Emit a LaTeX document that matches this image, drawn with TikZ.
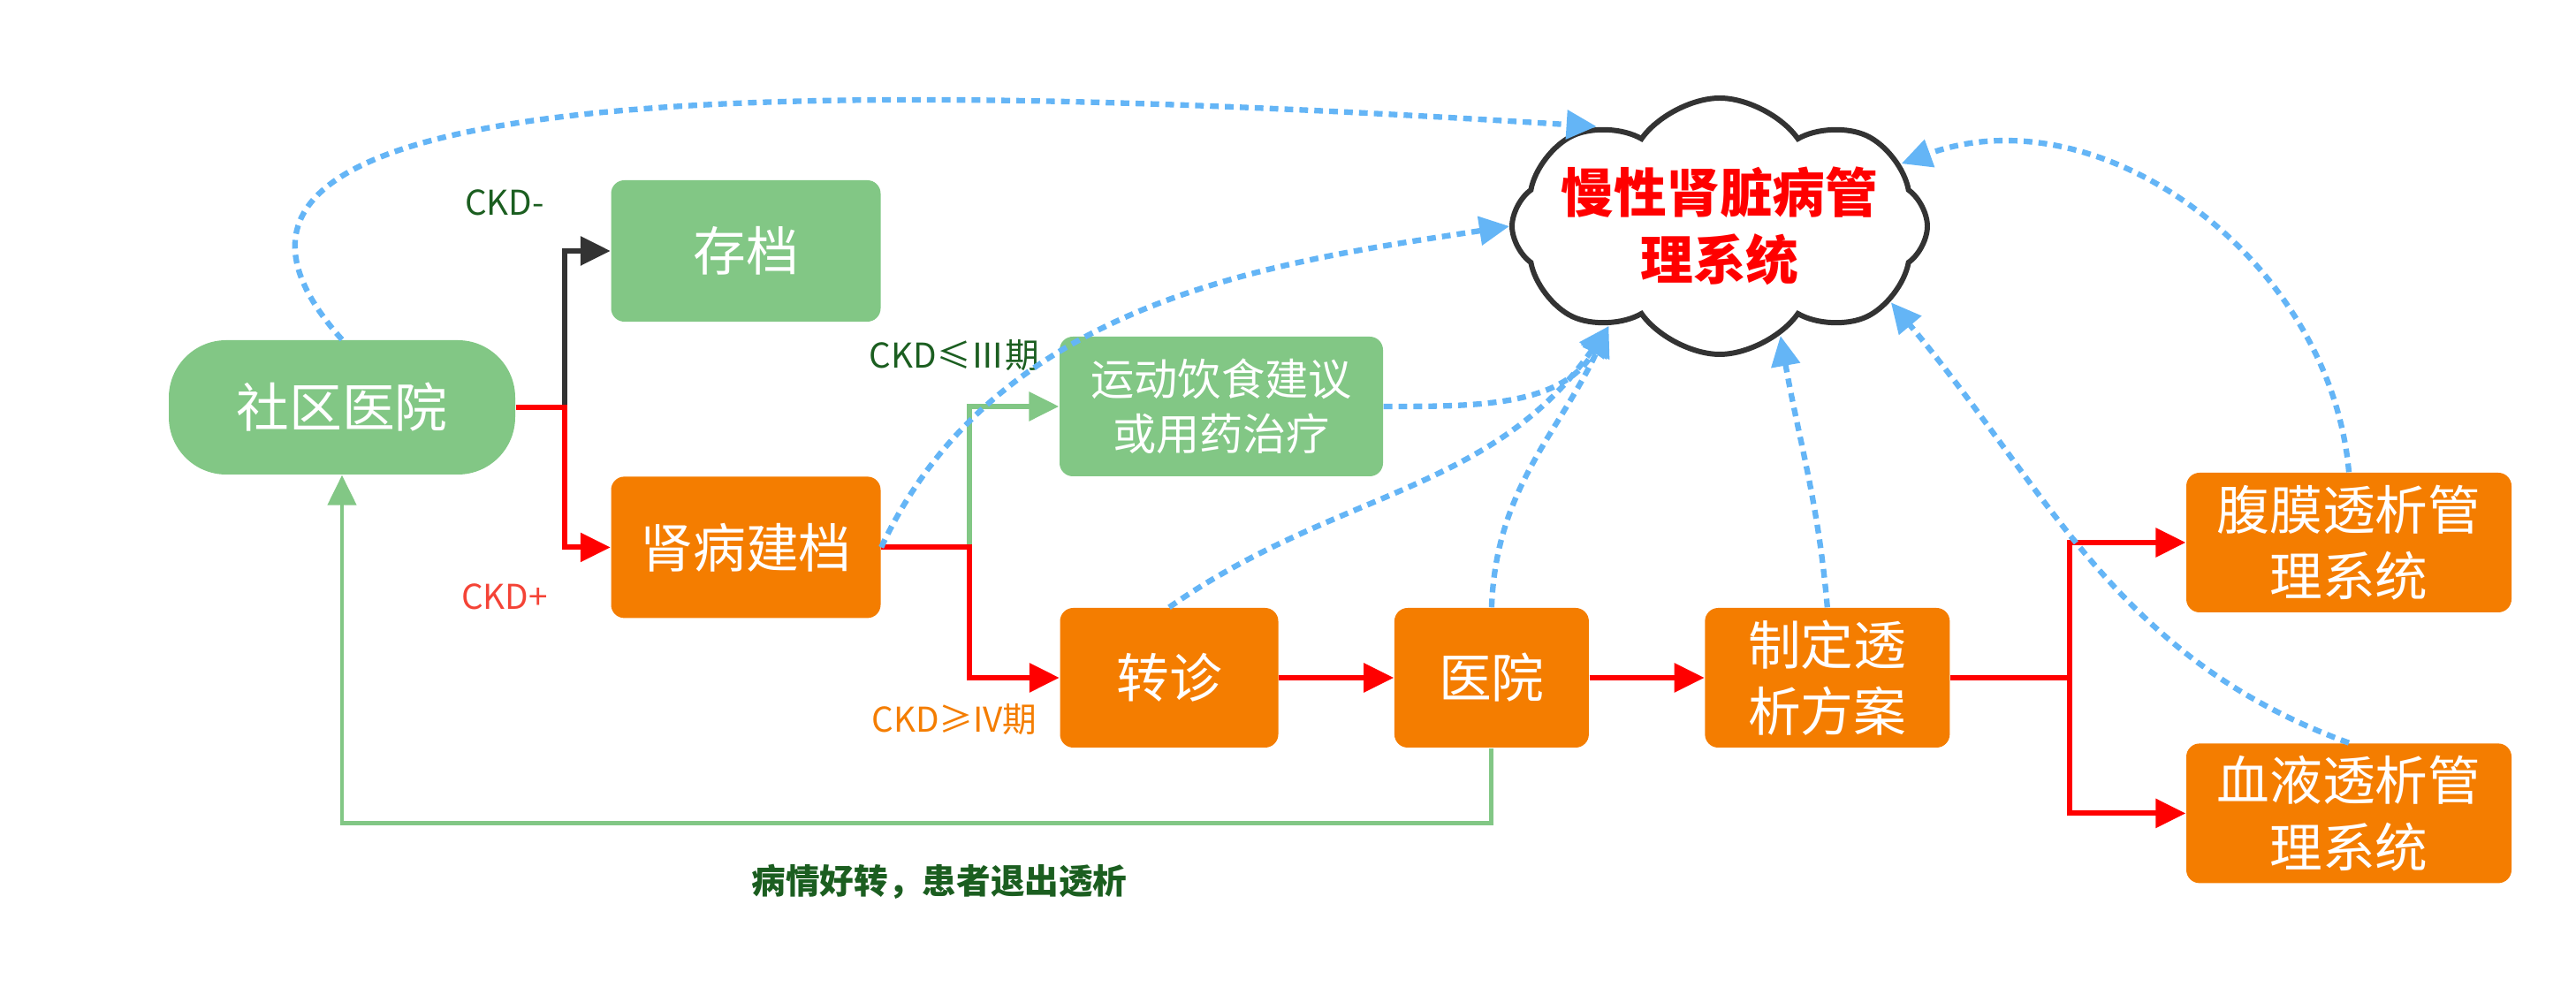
\documentclass[tikz,border=0pt]{standalone}
\usepackage{fontspec}
\setmainfont{Noto Sans CJK SC}
\usepackage{xcolor}
\usetikzlibrary{positioning}
\usetikzlibrary{shapes.symbols}
\usetikzlibrary{arrows.meta}
\definecolor{boxgreen}{HTML}{82C785}
\definecolor{boxorange}{HTML}{F47D00}
\definecolor{linkblue}{HTML}{64B5F6}
\definecolor{textgreen}{HTML}{1B5E20}
\definecolor{textred}{HTML}{F44336}
\definecolor{darkline}{HTML}{333333}
\tikzset{
	block/.style={
		rectangle,
		align=center,
		minimum height=1.6cm,
		inner sep=.1cm,
		rounded corners=.15cm,
		text=white,
		font=\fontsize{17}{21.5}\selectfont
	},
	greenblock/.style={block, fill=boxgreen},
	orangeblock/.style={block, fill=boxorange},
	flow/.style={line width=1.7pt, -{Triangle[length=.34cm, width=.32cm]}},
	infolink/.style={linkblue, line width=1.8pt, dash pattern=on 2.8pt off 2pt, -{Triangle[length=.34cm, width=.32cm]}},
	steplabel/.style={font=\fontsize{11}{13}\selectfont}
}

\begin{document}
\begin{tikzpicture}
		\useasboundingbox (0,0) rectangle (29.15,11.26);
		\draw node[greenblock, minimum width=3.92cm, minimum height=1.52cm, rounded corners=.65cm](Comm) at (3.87,6.65){社区医院};
		\draw node[greenblock, minimum width=3.05cm](Archive) at (8.44,8.42){存档};
		\draw node[orangeblock, minimum width=3.05cm, below=1.74cm of Archive](Ckdfile){肾病建档};
		\draw node[greenblock, minimum width=3.66cm, minimum height=1.58cm, font=\fontsize{14}{17.5}\selectfont](Advice) at (13.82,6.66){运动饮食建议\\或用药治疗};
		\draw node[orangeblock, minimum width=2.47cm, minimum height=1.58cm](Refer) at (13.23,3.59){转诊};
		\draw node[orangeblock, minimum width=2.2cm, minimum height=1.58cm, right=1.3cm of Refer](Hosp){医院};
		\draw node[orangeblock, minimum width=2.77cm, minimum height=1.58cm, right=1.3cm of Hosp](Plan){制定透\\析方案};
		\draw node[orangeblock, minimum width=3.68cm, minimum height=1.58cm](PD) at (26.58,5.12){腹膜透析管\\理系统};
		\draw node[orangeblock, minimum width=3.68cm, minimum height=1.58cm, below=1.47cm of PD](HD){血液透析管\\理系统};
		\draw node[cloud, cloud puffs=8, cloud puff arc=110, cloud ignores aspect, draw=darkline, fill=white, line width=1.7pt, minimum width=4.7cm, minimum height=2.9cm](Sys) at (19.46,8.70){};
		\draw node[align=center, text=red, font=\fontsize{17}{21.5}\selectfont\bfseries](SysText) at (Sys){慢性肾脏病管\\理系统};
		
		\draw node[steplabel, text=textgreen](LblNeg) at (5.71,8.97){CKD-};
		\draw node[steplabel, text=textred](LblPos) at (5.71,4.51){CKD+};
		\draw node[steplabel, text=textgreen](LblMild) at (10.80,7.24){CKD≤Ⅲ期};
		\draw node[steplabel, text=boxorange](LblSevere) at (10.80,3.12){CKD≥IV期};
		\draw node[steplabel, text=textgreen, font=\fontsize{11}{13}\selectfont\bfseries](LblBack) at (10.63,1.28){病情好转，患者退出透析};
		
		\draw[flow, darkline] (Comm.east) -- ++(.55,0) |- (Archive.west);
		\draw[flow, red] (Comm.east) -- ++(.55,0) |- (Ckdfile.west);
		\draw[flow, boxgreen] (Ckdfile.east) -- ++(1,0) |- (Advice.west);
		\draw[flow, red] (Ckdfile.east) -- ++(1,0) |- (Refer.west);
		\draw[flow, red] (Refer) -- (Hosp);
		\draw[flow, red] (Hosp) -- (Plan);
		\draw[flow, red] (Plan.east) -- ++(1.345,0) |- (PD.west);
		\draw[flow, red] (Plan.east) -- ++(1.345,0) |- (HD.west);
		\draw[flow, boxgreen, line width=1.4pt] (Hosp.south) -- ++(0,-.85) -| (Comm.south);
		
		\draw[infolink] (Comm.north) .. controls (1.2,10.4) and (9,10.4) .. (Sys.141);
		\draw[infolink] (Ckdfile.east) .. controls (11.3,7.9) and (14.5,8.3) .. (Sys.west);
		\draw[infolink] (Advice.east) to[out=0, in=240] (Sys.222);
		\draw[infolink] (Refer.north) to[out=35, in=235] (Sys.222);
		\draw[infolink] (Hosp.north) to[out=88, in=245] (Sys.222);
		\draw[infolink] (Plan.north) to[out=95, in=280] (Sys.299);
		\draw[infolink] (HD.north) to[out=160, in=310] (Sys.336);
		\draw[infolink] (PD.north) to[out=95, in=20] (Sys.19);
	\end{tikzpicture}
\end{document}
